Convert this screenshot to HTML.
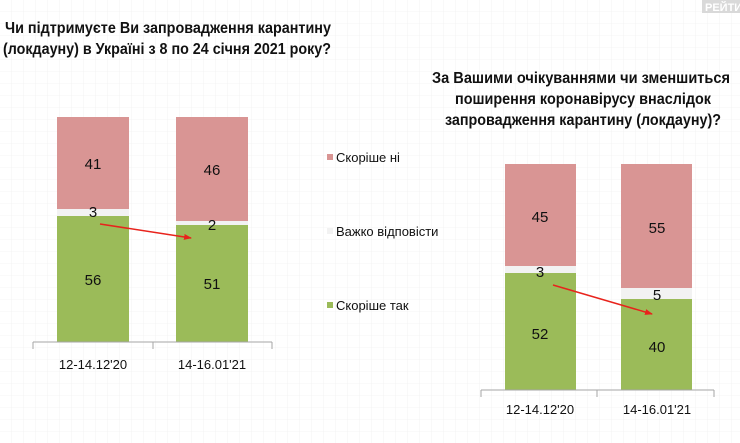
<!DOCTYPE html>
<html><head><meta charset="utf-8"><style>
html,body{margin:0;padding:0;background:#fff}
svg{display:block}
text{font-family:"Liberation Sans",sans-serif}
</style></head><body>
<svg width="740" height="443" viewBox="0 0 740 443" xmlns="http://www.w3.org/2000/svg">
<defs>
<pattern id="g" width="12" height="12" patternUnits="userSpaceOnUse">
<path d="M12 0V12M0 12H12" stroke="#ececec" stroke-width="0.6" fill="none"/>
</pattern>
<marker id="ar" markerWidth="8" markerHeight="6" refX="7" refY="3" orient="auto" markerUnits="userSpaceOnUse">
<path d="M0 0L8 3L0 6Z" fill="#e8231c"/>
</marker>
</defs>
<rect width="740" height="443" fill="#fff"/>
<rect width="740" height="443" fill="url(#g)"/>
<rect x="702" y="0" width="38" height="13" fill="#d9d9d9"/>
<text x="705" y="11" font-size="11" font-weight="bold" fill="#fff">РЕЙТИ</text>

<g font-weight="bold" font-size="16" fill="#111">
<text x="5" y="33" textLength="326" lengthAdjust="spacingAndGlyphs">Чи підтримуєте Ви запровадження карантину</text>
<text x="3" y="54" textLength="328" lengthAdjust="spacingAndGlyphs">(локдауну)  в Україні з 8 по 24 січня 2021 року?</text>
</g>
<g font-weight="bold" font-size="15.5" fill="#111">
<text x="432" y="83" textLength="298" lengthAdjust="spacingAndGlyphs">За Вашими очікуваннями чи зменшиться</text>
<text x="455" y="104" textLength="256" lengthAdjust="spacingAndGlyphs">поширення коронавірусу внаслідок</text>
<text x="445" y="125" textLength="276" lengthAdjust="spacingAndGlyphs">запровадження карантину (локдауну)?</text>
</g>

<!-- left chart -->
<rect x="57" y="117" width="72" height="92" fill="#d99594"/>
<rect x="57" y="209" width="72" height="7" fill="#f2f2f2"/>
<rect x="57" y="216" width="72" height="126" fill="#9bbb59"/>
<rect x="176" y="117" width="72" height="104" fill="#d99594"/>
<rect x="176" y="221" width="72" height="4" fill="#f2f2f2"/>
<rect x="176" y="225" width="72" height="117" fill="#9bbb59"/>
<path d="M33 342H272M33 342V349M153 342V349M272 342V349" stroke="#a6a6a6" stroke-width="1" fill="none"/>
<g font-size="15" fill="#111" text-anchor="middle">
<text x="93" y="169">41</text>
<text x="93" y="217">3</text>
<text x="93" y="285">56</text>
<text x="212" y="175">46</text>
<text x="212" y="230">2</text>
<text x="212" y="289">51</text>
<text x="93" y="369" font-size="13">12-14.12'20</text>
<text x="212" y="369" font-size="13">14-16.01'21</text>
</g>
<line x1="100" y1="224" x2="191" y2="238" stroke="#e8231c" stroke-width="1.5" marker-end="url(#ar)"/>

<!-- legend -->
<rect x="327" y="154" width="6" height="6" fill="#d99594"/>
<rect x="327" y="228" width="6" height="6" fill="#f2f2f2"/>
<rect x="327" y="302" width="6" height="6" fill="#9bbb59"/>
<g font-size="13" fill="#111">
<text x="336" y="162">Скоріше ні</text>
<text x="336" y="236">Важко відповісти</text>
<text x="336" y="310">Скоріше так</text>
</g>

<!-- right chart -->
<rect x="505" y="164" width="71" height="102" fill="#d99594"/>
<rect x="505" y="266" width="71" height="7" fill="#f2f2f2"/>
<rect x="505" y="273" width="71" height="117" fill="#9bbb59"/>
<rect x="621" y="164" width="71" height="124" fill="#d99594"/>
<rect x="621" y="288" width="71" height="11" fill="#f2f2f2"/>
<rect x="621" y="299" width="71" height="91" fill="#9bbb59"/>
<path d="M481 390H714M481 390V397M597 390V397M714 390V397" stroke="#a6a6a6" stroke-width="1" fill="none"/>
<g font-size="15" fill="#111" text-anchor="middle">
<text x="540" y="222">45</text>
<text x="540" y="277">3</text>
<text x="540" y="339">52</text>
<text x="657" y="233">55</text>
<text x="657" y="300">5</text>
<text x="657" y="352">40</text>
<text x="540" y="414" font-size="13">12-14.12'20</text>
<text x="657" y="414" font-size="13">14-16.01'21</text>
</g>
<line x1="553" y1="285" x2="652" y2="314" stroke="#e8231c" stroke-width="1.5" marker-end="url(#ar)"/>
</svg>
</body></html>
